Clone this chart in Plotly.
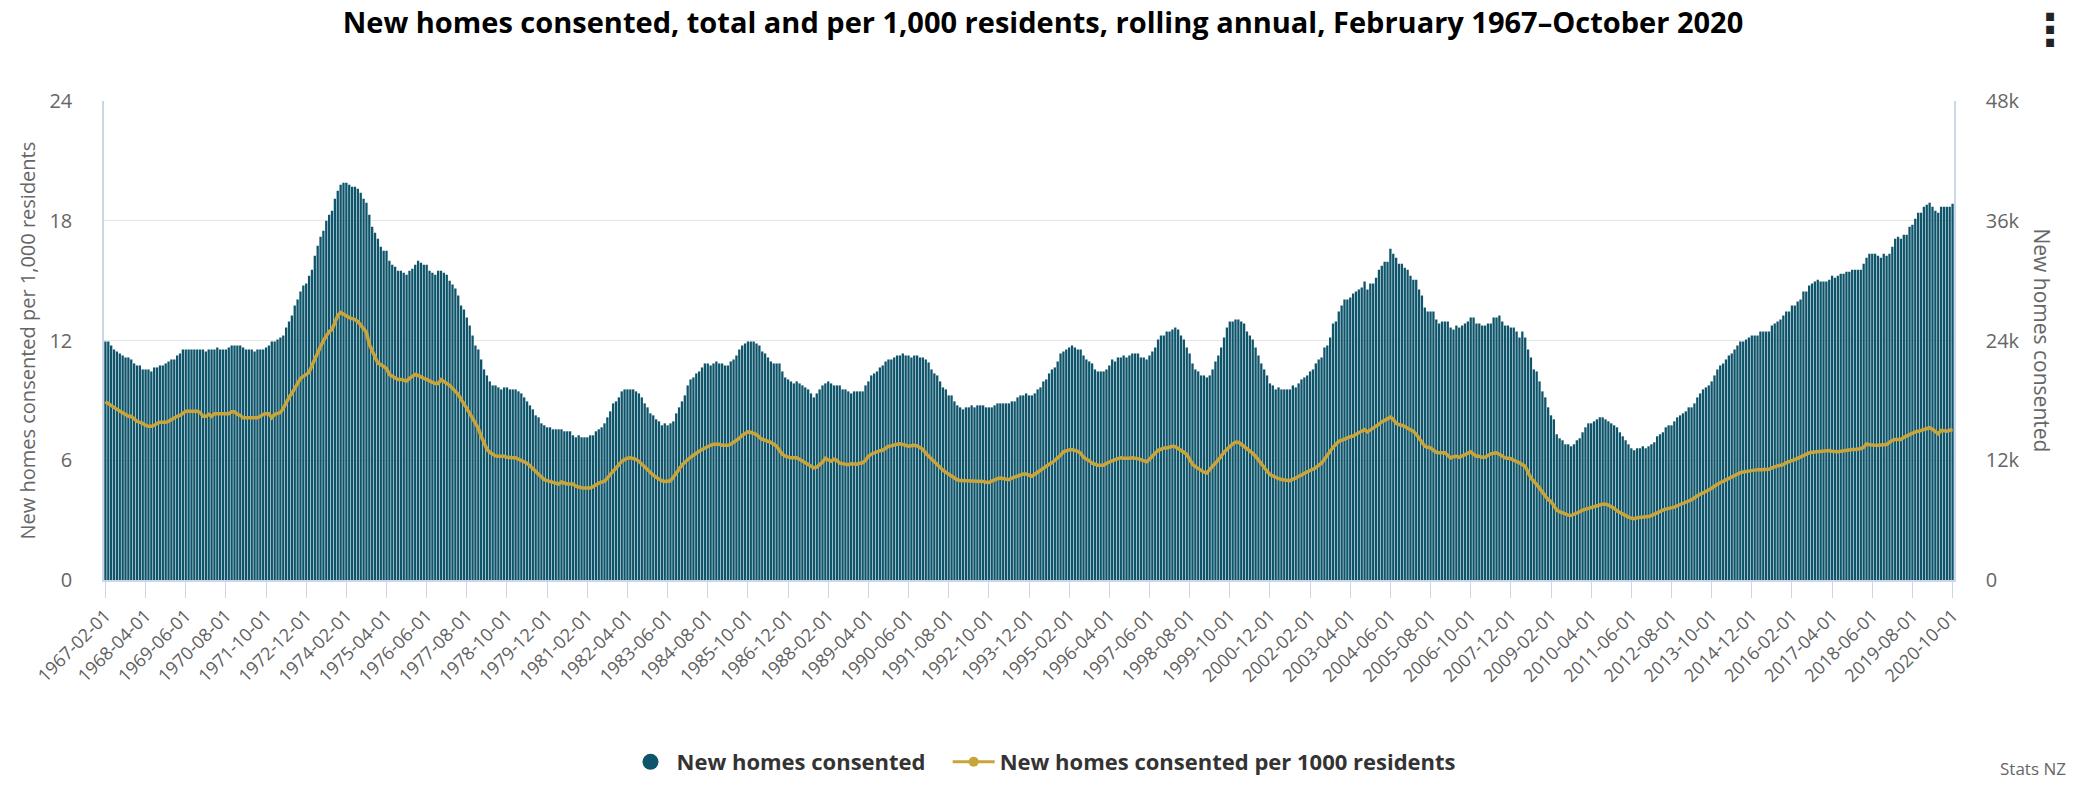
import pandas as pd
import plotly.graph_objects as go

# ---- data ----
# New homes consented, rolling annual total, thousands (Feb 1967 .. Oct 2020)
homes_k = [
    23.9, 23.9, 23.5, 23.1, 22.9, 22.7, 22.5, 22.3, 22.3, 22.1,
    21.7, 21.5, 21.5, 21.1, 21.1, 21.1, 20.9, 21.3, 21.3, 21.5,
    21.5, 21.7, 21.9, 22.1, 22.1, 22.5, 22.7, 23.1, 23.1, 23.1,
    23.1, 23.1, 23.1, 23.1, 23.1, 22.9, 23.1, 23.1, 23.1, 23.3,
    23.1, 23.1, 23.1, 23.3, 23.5, 23.5, 23.5, 23.5, 23.3, 23.1,
    23.1, 23.1, 22.9, 23.1, 23.1, 23.1, 23.3, 23.5, 23.9, 23.9,
    24.1, 24.3, 24.5, 25.3, 25.9, 26.5, 27.5, 28.1, 28.9, 29.5,
    29.7, 30.5, 31.1, 32.5, 33.5, 34.4, 35.0, 36.0, 36.6, 37.0,
    38.2, 39.0, 39.6, 39.8, 39.8, 39.6, 39.4, 39.4, 39.2, 38.8,
    38.2, 37.8, 36.6, 35.4, 34.8, 34.2, 33.4, 33.0, 33.0, 32.0,
    31.6, 31.4, 31.0, 31.0, 30.8, 30.6, 31.0, 31.2, 31.6, 32.0,
    31.8, 31.6, 31.6, 31.0, 30.8, 30.6, 31.0, 31.0, 30.8, 30.6,
    30.0, 29.6, 29.2, 28.5, 27.5, 27.1, 26.3, 25.5, 24.5, 23.5,
    23.1, 22.1, 21.1, 20.5, 19.9, 19.5, 19.5, 19.3, 19.1, 19.3,
    19.3, 19.1, 19.1, 19.1, 18.9, 18.7, 18.3, 17.9, 17.5, 17.1,
    16.5, 16.3, 15.7, 15.5, 15.3, 15.3, 15.1, 15.1, 15.1, 15.1,
    14.9, 14.9, 14.9, 14.5, 14.3, 14.5, 14.3, 14.3, 14.3, 14.5,
    14.5, 14.9, 15.1, 15.3, 15.7, 16.3, 16.9, 17.7, 17.9, 18.3,
    18.9, 19.1, 19.1, 19.1, 19.1, 18.9, 18.7, 18.3, 17.7, 17.3,
    16.7, 16.5, 16.1, 15.9, 15.5, 15.7, 15.5, 15.7, 15.9, 16.7,
    17.3, 17.9, 18.5, 19.5, 20.1, 20.3, 20.7, 20.9, 21.3, 21.7,
    21.7, 21.5, 21.7, 21.9, 21.7, 21.7, 21.5, 21.5, 21.9, 22.1,
    22.5, 23.1, 23.5, 23.7, 23.9, 23.9, 23.9, 23.7, 23.5, 22.9,
    22.7, 22.3, 21.9, 21.7, 21.7, 21.7, 20.9, 20.3, 20.1, 19.9,
    19.7, 19.9, 19.7, 19.5, 19.3, 19.1, 18.7, 18.3, 18.7, 19.1,
    19.5, 19.7, 19.9, 19.7, 19.5, 19.5, 19.5, 19.1, 19.1, 18.9,
    18.7, 18.9, 18.9, 18.9, 18.9, 19.5, 19.9, 20.5, 20.7, 20.9,
    21.3, 21.5, 21.9, 22.1, 22.1, 22.3, 22.5, 22.5, 22.7, 22.5,
    22.5, 22.3, 22.5, 22.5, 22.3, 22.3, 22.1, 21.8, 21.1, 20.7,
    20.5, 19.9, 19.3, 19.1, 18.5, 18.5, 17.9, 17.5, 17.3, 17.1,
    17.3, 17.3, 17.5, 17.3, 17.5, 17.5, 17.5, 17.3, 17.3, 17.3,
    17.5, 17.7, 17.7, 17.7, 17.7, 17.7, 17.9, 17.9, 18.3, 18.5,
    18.5, 18.7, 18.5, 18.5, 18.7, 19.1, 19.3, 19.9, 20.1, 20.7,
    21.1, 21.3, 21.9, 22.7, 22.9, 23.1, 23.3, 23.5, 23.3, 23.1,
    23.1, 22.5, 22.1, 21.9, 21.7, 21.1, 20.9, 20.9, 20.9, 21.1,
    21.5, 22.1, 21.9, 22.3, 22.3, 22.5, 22.3, 22.5, 22.7, 22.7,
    22.7, 22.3, 22.3, 22.1, 22.5, 22.9, 23.3, 24.1, 24.5, 24.5,
    24.9, 24.9, 25.1, 25.3, 25.1, 24.5, 24.1, 23.3, 22.7, 21.7,
    21.1, 20.9, 20.5, 20.5, 20.3, 20.5, 21.1, 21.9, 22.5, 23.3,
    24.3, 25.3, 25.9, 25.9, 26.1, 26.1, 25.9, 25.7, 24.9, 24.5,
    24.1, 23.3, 22.5, 21.7, 21.1, 20.5, 19.7, 19.5, 19.1, 19.3,
    19.1, 19.1, 19.1, 19.1, 19.5, 19.3, 19.7, 20.1, 20.3, 20.5,
    20.9, 21.1, 21.7, 22.1, 22.3, 23.3, 23.5, 24.3, 25.7, 25.9,
    26.9, 27.5, 28.1, 28.1, 28.3, 28.7, 28.9, 29.1, 29.3, 29.9,
    29.1, 29.7, 29.7, 30.3, 31.1, 31.5, 31.9, 31.9, 33.2, 32.7,
    32.3, 31.7, 31.7, 31.3, 31.1, 30.5, 30.1, 30.1, 29.1, 28.5,
    27.3, 26.9, 26.9, 26.9, 26.1, 25.7, 25.9, 25.9, 25.9, 25.3,
    25.1, 25.5, 25.3, 25.5, 25.7, 25.9, 26.3, 26.3, 25.7, 25.7,
    25.5, 25.5, 25.7, 25.7, 26.3, 26.3, 26.5, 25.9, 25.5, 25.5,
    25.3, 25.3, 24.9, 24.3, 24.9, 24.3, 23.1, 22.3, 21.1, 20.9,
    19.9, 18.9, 18.3, 17.3, 16.5, 16.1, 14.6, 14.2, 14.0, 13.6,
    13.6, 13.4, 13.6, 14.0, 14.2, 14.8, 15.3, 15.7, 15.7, 15.9,
    16.1, 16.3, 16.3, 16.1, 15.9, 15.7, 15.5, 15.3, 14.8, 14.4,
    14.0, 13.6, 13.2, 13.0, 13.2, 13.2, 13.4, 13.2, 13.4, 13.6,
    13.8, 14.4, 14.6, 14.8, 15.3, 15.5, 15.5, 15.9, 16.3, 16.5,
    16.7, 16.9, 17.3, 17.3, 17.7, 18.3, 18.7, 19.1, 19.3, 19.5,
    19.9, 20.5, 21.1, 21.5, 21.7, 22.1, 22.5, 22.7, 23.1, 23.5,
    23.9, 23.9, 24.1, 24.3, 24.5, 24.5, 24.5, 24.9, 24.9, 24.9,
    24.9, 25.5, 25.7, 25.9, 26.1, 26.5, 26.9, 26.9, 27.5, 27.5,
    27.9, 28.1, 28.9, 28.9, 29.5, 29.7, 29.9, 30.1, 29.9, 29.9,
    29.9, 30.1, 30.5, 30.3, 30.5, 30.7, 30.7, 30.9, 30.9, 31.1,
    31.1, 31.1, 31.1, 31.7, 32.3, 32.7, 32.7, 32.7, 32.5, 32.3,
    32.7, 32.5, 32.7, 33.4, 34.2, 34.4, 34.2, 34.6, 34.6, 35.4,
    35.6, 36.2, 36.8, 36.8, 37.4, 37.6, 37.8, 37.4, 37.0, 36.8,
    37.4, 37.4, 37.4, 37.4, 37.7,
]

# New homes consented per 1,000 residents
per_1000 = [
    8.93, 8.85, 8.75, 8.65, 8.55, 8.45, 8.35, 8.25, 8.2, 8.2,
    8.05, 7.95, 7.9, 7.85, 7.75, 7.7, 7.7, 7.75, 7.85, 7.9,
    7.9, 7.9, 7.95, 8.05, 8.1, 8.2, 8.25, 8.35, 8.45, 8.45,
    8.45, 8.45, 8.45, 8.4, 8.2, 8.2, 8.3, 8.2, 8.33, 8.33,
    8.33, 8.33, 8.33, 8.33, 8.43, 8.43, 8.3, 8.25, 8.13, 8.13,
    8.13, 8.13, 8.13, 8.13, 8.2, 8.3, 8.33, 8.33, 8.13, 8.3,
    8.35, 8.38, 8.6, 8.9, 9.15, 9.35, 9.6, 9.85, 10.1, 10.2,
    10.3, 10.4, 10.75, 11.1, 11.4, 11.7, 12.0, 12.2, 12.45, 12.55,
    12.9, 13.25, 13.4, 13.3, 13.25, 13.15, 13.1, 13.05, 12.95, 12.8,
    12.6, 12.4, 11.8, 11.5, 11.2, 10.85, 10.8, 10.7, 10.6, 10.3,
    10.2, 10.1, 10.05, 10.05, 10.0, 9.97, 10.1, 10.2, 10.3, 10.25,
    10.15, 10.1, 10.05, 9.95, 9.9, 9.85, 9.85, 10.04, 9.95, 9.85,
    9.75, 9.6, 9.45, 9.3, 9.05, 8.85, 8.6, 8.35, 8.1, 7.85,
    7.6, 7.2, 6.85, 6.55, 6.4, 6.3, 6.22, 6.2, 6.2, 6.2,
    6.15, 6.12, 6.12, 6.12, 6.05, 6.0, 5.95, 5.85, 5.72, 5.6,
    5.45, 5.3, 5.15, 5.03, 4.98, 4.93, 4.88, 4.83, 4.81, 4.91,
    4.85, 4.81, 4.81, 4.81, 4.7, 4.64, 4.62, 4.61, 4.61, 4.61,
    4.68, 4.78, 4.85, 4.9, 4.95, 5.1, 5.3, 5.45, 5.6, 5.8,
    5.95, 6.03, 6.1, 6.12, 6.1, 6.05, 5.95, 5.8, 5.65, 5.5,
    5.35, 5.25, 5.15, 5.05, 4.97, 4.94, 4.94, 4.97, 5.15, 5.36,
    5.55, 5.75, 5.9, 6.05, 6.15, 6.25, 6.37, 6.45, 6.54, 6.62,
    6.7, 6.75, 6.8, 6.82, 6.8, 6.75, 6.75, 6.75, 6.8, 6.9,
    6.96, 7.1, 7.25, 7.35, 7.42, 7.4, 7.35, 7.29, 7.15, 7.04,
    7.0, 6.96, 6.9, 6.8, 6.7, 6.5, 6.3, 6.2, 6.15, 6.12,
    6.12, 6.12, 6.05, 5.95, 5.9, 5.8, 5.7, 5.62, 5.65, 5.78,
    5.9, 6.1, 6.0, 5.95, 6.05, 6.0, 5.85, 5.82, 5.8, 5.78,
    5.82, 5.82, 5.8, 5.85, 5.87, 6.0, 6.2, 6.3, 6.37, 6.42,
    6.48, 6.5, 6.6, 6.7, 6.72, 6.78, 6.8, 6.82, 6.8, 6.75,
    6.7, 6.72, 6.75, 6.72, 6.65, 6.55, 6.35, 6.2, 6.05, 5.95,
    5.8, 5.65, 5.5, 5.4, 5.3, 5.22, 5.15, 5.02, 4.98, 4.98,
    4.98, 4.98, 4.98, 4.98, 4.98, 4.96, 4.94, 4.9, 4.89, 4.95,
    5.03, 5.08, 5.11, 5.08, 5.05, 5.03, 5.1, 5.15, 5.2, 5.28,
    5.31, 5.31, 5.25, 5.2, 5.3, 5.41, 5.5, 5.6, 5.7, 5.8,
    5.87, 5.98, 6.1, 6.25, 6.42, 6.48, 6.52, 6.54, 6.5, 6.45,
    6.35, 6.15, 6.05, 5.98, 5.85, 5.78, 5.75, 5.75, 5.75, 5.85,
    5.92, 6.0, 6.03, 6.08, 6.12, 6.1, 6.08, 6.1, 6.12, 6.12,
    6.08, 6.03, 5.98, 5.92, 6.05, 6.2, 6.4, 6.5, 6.55, 6.62,
    6.62, 6.65, 6.7, 6.68, 6.6, 6.5, 6.4, 6.29, 6.05, 5.8,
    5.68, 5.58, 5.48, 5.4, 5.36, 5.55, 5.7, 5.85, 6.0, 6.2,
    6.4, 6.55, 6.7, 6.82, 6.9, 6.9, 6.8, 6.7, 6.55, 6.45,
    6.35, 6.2, 6.0, 5.8, 5.62, 5.45, 5.28, 5.2, 5.12, 5.08,
    5.04, 5.02, 5.0, 4.98, 5.05, 5.1, 5.2, 5.25, 5.35, 5.42,
    5.48, 5.53, 5.62, 5.75, 5.85, 6.05, 6.25, 6.5, 6.65, 6.8,
    6.95, 7.0, 7.08, 7.12, 7.18, 7.21, 7.3, 7.37, 7.45, 7.54,
    7.42, 7.5, 7.6, 7.71, 7.8, 7.93, 8.0, 8.08, 8.16, 8.05,
    7.85, 7.79, 7.75, 7.7, 7.6, 7.52, 7.46, 7.3, 7.12, 6.95,
    6.7, 6.65, 6.62, 6.5, 6.4, 6.37, 6.37, 6.37, 6.25, 6.12,
    6.18, 6.2, 6.15, 6.22, 6.25, 6.35, 6.42, 6.3, 6.2, 6.2,
    6.15, 6.15, 6.25, 6.32, 6.35, 6.37, 6.3, 6.2, 6.12, 6.1,
    6.08, 6.0, 5.95, 5.87, 5.78, 5.7, 5.4, 5.11, 4.95, 4.8,
    4.6, 4.4, 4.2, 4.02, 3.94, 3.7, 3.5, 3.42, 3.35, 3.3,
    3.25, 3.23, 3.28, 3.35, 3.42, 3.5, 3.55, 3.6, 3.64, 3.68,
    3.72, 3.76, 3.8, 3.8, 3.75, 3.69, 3.6, 3.47, 3.38, 3.28,
    3.2, 3.15, 3.1, 3.07, 3.12, 3.13, 3.13, 3.13, 3.18, 3.23,
    3.3, 3.4, 3.45, 3.5, 3.55, 3.58, 3.6, 3.65, 3.72, 3.78,
    3.85, 3.9, 3.95, 4.02, 4.12, 4.22, 4.3, 4.36, 4.43, 4.5,
    4.6, 4.7, 4.8, 4.88, 4.94, 5.02, 5.1, 5.18, 5.25, 5.32,
    5.38, 5.41, 5.44, 5.46, 5.5, 5.53, 5.53, 5.53, 5.53, 5.53,
    5.55, 5.62, 5.68, 5.72, 5.75, 5.78, 5.88, 5.95, 5.98, 6.03,
    6.1, 6.15, 6.2, 6.3, 6.37, 6.4, 6.42, 6.43, 6.45, 6.46,
    6.47, 6.49, 6.45, 6.42, 6.43, 6.45, 6.48, 6.52, 6.54, 6.54,
    6.54, 6.55, 6.58, 6.65, 6.82, 6.78, 6.75, 6.75, 6.75, 6.75,
    6.77, 6.79, 6.9, 7.0, 7.04, 7.04, 7.04, 7.15, 7.22, 7.26,
    7.35, 7.42, 7.45, 7.49, 7.55, 7.6, 7.63, 7.55, 7.45, 7.32,
    7.5, 7.48, 7.46, 7.5, 7.54,
]

assert len(homes_k) == 645, len(homes_k)
assert len(per_1000) == 645, len(per_1000)

# categories: monthly, Feb 1967 .. Oct 2020
months = list(pd.date_range("1967-02-01", periods=len(homes_k), freq="MS").strftime("%Y-%m-%d"))
tick_months = months[::14]

left_ticks = [0, 6, 12, 18, 24]
right_ticks = [0, 12, 24, 36, 48]
right_tick_text = ["0", "12k", "24k", "36k", "48k"]

BAR = "#0e546a"
GOLD = "#c9a43a"
FONT = "Open Sans"
GREY = "#666666"
AXIS_BLUE = "#ccd6eb"

fig = go.Figure()

fig.add_trace(go.Bar(
    x=months, y=homes_k, yaxis="y",
    marker=dict(color=BAR, line=dict(width=0)),
    name="New homes consented", showlegend=False,
))
fig.add_trace(go.Scatter(
    x=months, y=per_1000, yaxis="y2", mode="lines",
    line=dict(color=GOLD, width=3.5),
    name="New homes consented per 1000 residents", showlegend=False,
))
# legend entries (Highcharts-style symbols)
fig.add_trace(go.Scatter(
    x=[None], y=[None], mode="markers",
    marker=dict(symbol="circle", size=16, color=BAR),
    name="<b>New homes consented</b>&nbsp;&nbsp;&nbsp;",
))
fig.add_trace(go.Scatter(
    x=[None], y=[None], mode="lines+markers", yaxis="y2",
    line=dict(color=GOLD, width=3), marker=dict(symbol="circle", size=10, color=GOLD),
    name="<b>New homes consented per 1000 residents</b>",
))

fig.update_layout(
    width=2086, height=794,
    margin=dict(l=104, r=132, t=101, b=214),
    paper_bgcolor="white", plot_bgcolor="white",
    font=dict(family=FONT, color=GREY, size=16),
    bargap=0.2,
    title=dict(
        text="<b>New homes consented, total and per 1,000 residents, rolling annual, February 1967\u2013October 2020</b>",
        x=0.5, xanchor="center", xref="container",
        y=1 - 23 / 794, yanchor="middle", yref="container",
        font=dict(family=FONT, size=29, color="#000000"),
    ),
    xaxis=dict(
        type="category",
        tickmode="array", tickvals=tick_months, ticktext=tick_months,
        tickangle=-45,
        ticks="outside", ticklen=16, tickwidth=1, tickcolor=AXIS_BLUE,
        showline=True, linecolor=AXIS_BLUE, linewidth=2,
        showgrid=False, zeroline=False,
        tickfont=dict(family=FONT, size=18, color="#606060"),
    ),
    yaxis=dict(
        side="right", range=[0, 48],
        tickmode="array", tickvals=right_ticks, ticktext=right_tick_text,
        showgrid=True, gridcolor="#e6e6e6", gridwidth=1,
        zeroline=False,
        showline=True, linecolor=AXIS_BLUE, linewidth=1.5,
        ticks="outside", ticklen=26, tickcolor="rgba(0,0,0,0)",
        tickfont=dict(family=FONT, size=20, color=GREY),
    ),
    yaxis2=dict(
        side="left", overlaying="y", range=[0, 24],
        tickmode="array", tickvals=left_ticks,
        showgrid=False, zeroline=False,
        showline=True, linecolor=AXIS_BLUE, linewidth=1.5,
        ticks="outside", ticklen=26, tickcolor="rgba(0,0,0,0)",
        tickfont=dict(family=FONT, size=20, color=GREY),
    ),
    legend=dict(
        orientation="h", xref="container", x=0.5, xanchor="center",
        yref="container", y=1 - 762 / 794, yanchor="middle",
        font=dict(family=FONT, size=22, color="#333333"),
        itemsizing="trace", itemwidth=42,
    ),
    hovermode=False,
)

plot_w = 2086 - 104 - 132
plot_h = 794 - 101 - 214

fig.add_annotation(
    text="New homes consented per 1,000 residents",
    xref="paper", yref="paper", x=(27 - 104) / plot_w, y=0.5,
    textangle=-90, showarrow=False, xanchor="center", yanchor="middle",
    font=dict(family=FONT, size=20, color=GREY),
)
fig.add_annotation(
    text="New homes consented",
    xref="paper", yref="paper", x=(2042 - 104) / plot_w, y=0.5,
    textangle=90, showarrow=False, xanchor="center", yanchor="middle",
    font=dict(family=FONT, size=21, color=GREY),
)
fig.add_annotation(
    text="Stats NZ",
    xref="paper", yref="paper", x=(2068 - 104) / plot_w, y=(580 - 768) / plot_h,
    showarrow=False, xanchor="right", yanchor="middle",
    font=dict(family=FONT, size=17, color=GREY),
)
fig.add_annotation(
    text="<b>\u22ee</b>",
    xref="paper", yref="paper", x=(2050 - 104) / plot_w, y=(580 - 29) / plot_h,
    showarrow=False, xanchor="center", yanchor="middle",
    font=dict(family="DejaVu Sans", size=44, color="#222222"),
)

fig.write_html("out.html", config={"displayModeBar": False},
               post_script="document.body.style.margin='0';")
